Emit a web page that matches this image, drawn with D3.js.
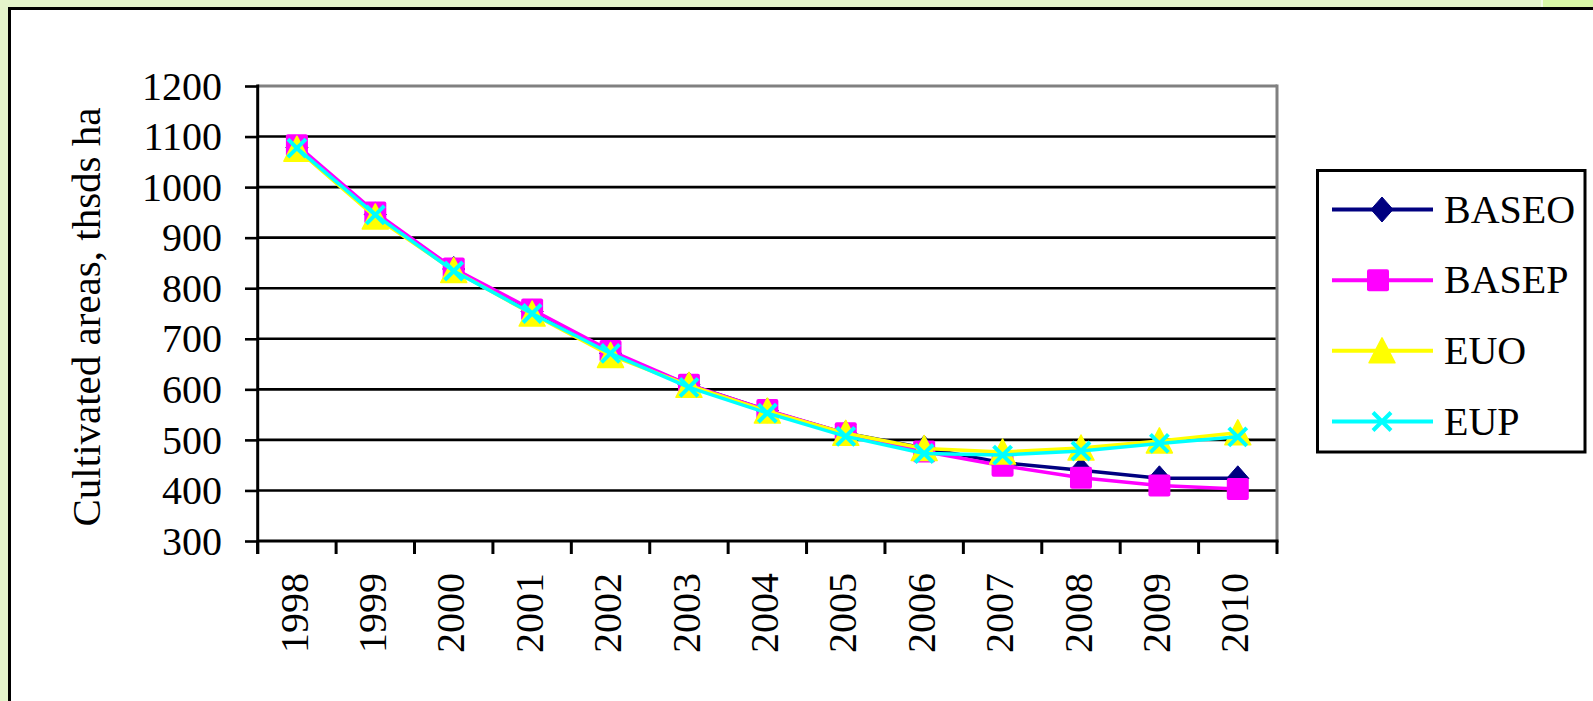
<!DOCTYPE html>
<html>
<head>
<meta charset="utf-8">
<script src="https://cdn.jsdelivr.net/npm/d3@7/dist/d3.min.js"></script>
<style>
  html, body { margin: 0; padding: 0; background: #e4f4cb; }
  svg { display: block; }
  text { font-family: "Liberation Serif", "Times New Roman", serif; fill: #000; }
</style>
</head>
<body>
<svg id="chart" width="1593" height="701" font-family="Liberation Serif"></svg>
<script>
const years = ["1998","1999","2000","2001","2002","2003","2004","2005","2006","2007","2008","2009","2010"];
const BASEO = [1078, 946, 838, 754, 671, 609, 558, 513, 484, 455, 440, 424, 424];
const BASEP = [1083, 950, 839, 758, 676, 609, 559, 513, 477, 449, 425, 410, 403];
const EUO   = [1075, 941, 835, 749, 667, 608, 557, 513, 483, 476, 484, 498, 514];
const EUP   = [1077, 945, 834, 750, 671, 604, 553, 507, 473, 470, 478, 493, 506];
const yTicks = [300, 400, 500, 600, 700, 800, 900, 1000, 1100, 1200];
const yTitle = "Cultivated areas, thsds ha";

const series = [
  { name: "BASEO", values: BASEO, color: "#000080", marker: "diamond" },
  { name: "BASEP", values: BASEP, color: "#ff00ff", marker: "square" },
  { name: "EUO",   values: EUO,   color: "#ffff00", marker: "triangle" },
  { name: "EUP",   values: EUP,   color: "#00ffff", marker: "x" }
];

(function () {
const FONT = "Liberation Serif";
const svg = d3.select("#chart");

// background strips and frame
svg.append("rect").attr("x", 1543).attr("y", 0).attr("width", 50).attr("height", 8).attr("fill", "#d8f6a6");
svg.append("rect").attr("x", 1541).attr("y", 0).attr("width", 2).attr("height", 8).attr("fill", "#f4fbe8");
svg.append("rect").attr("x", 10).attr("y", 9).attr("width", 1600).attr("height", 720).attr("fill", "#fff");
svg.append("line").attr("x1", 9.5).attr("x2", 9.5).attr("y1", 7).attr("y2", 701).attr("stroke", "#000").attr("stroke-width", 3);
svg.append("line").attr("x1", 8).attr("x2", 1593).attr("y1", 8.5).attr("y2", 8.5).attr("stroke", "#000").attr("stroke-width", 3);

const pLeft = 257.7, pRight = 1277, pTop = 86, pBottom = 541;

const x = d3.scaleBand().domain(years).range([pLeft, pRight]).padding(0);
const y = d3.scaleLinear().domain([300, 1200]).range([pBottom, pTop]);

// gridlines
svg.append("g").selectAll("line").data(yTicks.filter(v => v !== 300 && v !== 1200)).join("line")
  .attr("x1", pLeft).attr("x2", pRight)
  .attr("y1", d => y(d)).attr("y2", d => y(d))
  .attr("stroke", "#000").attr("stroke-width", 2.6);

// plot border top & right (gray)
svg.append("line").attr("x1", pLeft).attr("x2", pRight).attr("y1", y(1200)).attr("y2", y(1200))
  .attr("stroke", "#808080").attr("stroke-width", 3);
svg.append("line").attr("x1", pRight).attr("x2", pRight).attr("y1", y(1200) - 1.5).attr("y2", pBottom)
  .attr("stroke", "#808080").attr("stroke-width", 3);

// Y axis
const yAxis = svg.append("g").attr("transform", `translate(${pLeft},0)`)
  .call(d3.axisLeft(y).tickValues(yTicks).tickSize(12.7).tickPadding(23).tickFormat(d3.format("d")))
  .attr("font-family", FONT).attr("font-size", 40);
yAxis.select(".domain").remove();
yAxis.selectAll(".tick line").attr("stroke", "#000").attr("stroke-width", 2.6);
yAxis.selectAll(".tick text").attr("font-size", 40).attr("dy", "0.33em").attr("font-family", FONT);
svg.append("line").attr("x1", pLeft).attr("x2", pLeft).attr("y1", pTop - 1.5).attr("y2", pBottom + 13)
  .attr("stroke", "#000").attr("stroke-width", 3);

// X axis
const xAxis = svg.append("g").attr("transform", `translate(0,${pBottom})`)
  .call(d3.axisBottom(x).tickSize(0).tickPadding(0))
  .attr("font-family", FONT).attr("font-size", 40);
xAxis.select(".domain").remove();
xAxis.selectAll(".tick text")
  .attr("font-size", 40)
  .attr("font-family", FONT)
  .attr("text-anchor", "end")
  .attr("transform", "translate(-2.5,32) rotate(-90)")
  .attr("x", 0).attr("y", 0).attr("dy", "0.33em");
svg.append("line").attr("x1", pLeft).attr("x2", pRight + 1.5).attr("y1", pBottom).attr("y2", pBottom)
  .attr("stroke", "#000").attr("stroke-width", 3);
const boundaries = years.map(d => x(d)).concat([x.range()[1]]);
svg.append("g").selectAll("line").data(boundaries).join("line")
  .attr("x1", d => d).attr("x2", d => d)
  .attr("y1", pBottom).attr("y2", pBottom + 13)
  .attr("stroke", "#000").attr("stroke-width", 3);

// Y title
svg.append("text")
  .attr("transform", `translate(100,317) rotate(-90)`)
  .attr("text-anchor", "middle")
  .attr("font-family", FONT)
  .attr("font-size", 41)
  .text(yTitle);

// marker drawing
function drawMarker(g, type, color, cx, cy) {
  if (type === "diamond") {
    g.append("path").attr("d", `M${cx},${cy-12.5} L${cx+11},${cy} L${cx},${cy+12.5} L${cx-11},${cy} Z`)
      .attr("fill", color).attr("stroke", color).attr("stroke-width", 1).attr("stroke-linejoin", "round");
  } else if (type === "square") {
    g.append("rect").attr("x", cx - 11).attr("y", cy - 11).attr("width", 22).attr("height", 22)
      .attr("rx", 2).attr("fill", color);
  } else if (type === "triangle") {
    g.append("path").attr("d", `M${cx},${cy-13} L${cx+13},${cy+12} L${cx-13},${cy+12} Z`)
      .attr("fill", color).attr("stroke", color).attr("stroke-width", 1.5).attr("stroke-linejoin", "round");
  } else if (type === "x") {
    const s = 9;
    g.append("path").attr("d", `M${cx-s},${cy-s} L${cx+s},${cy+s} M${cx+s},${cy-s} L${cx-s},${cy+s}`)
      .attr("stroke", color).attr("stroke-width", 4).attr("fill", "none");
  }
}

const line = d3.line().x((d, i) => x(years[i]) + x.bandwidth() / 2).y(d => y(d));

series.forEach(s => {
  const g = svg.append("g");
  g.append("path").datum(s.values).attr("d", line)
    .attr("fill", "none").attr("stroke", s.color).attr("stroke-width", 3.5).attr("stroke-linejoin", "round");
  s.values.forEach((v, i) => drawMarker(g, s.marker, s.color, x(years[i]) + x.bandwidth() / 2, y(v)));
});

// Legend
const lg = svg.append("g");
lg.append("rect").attr("x", 1317.5).attr("y", 170.5).attr("width", 267.5).attr("height", 281.5)
  .attr("fill", "#fff").attr("stroke", "#000").attr("stroke-width", 3);
const legendY = d3.scalePoint().domain(series.map(s => s.name)).range([209.5, 421.5]);
series.forEach(s => {
  const cy = legendY(s.name);
  lg.append("line").attr("x1", 1332).attr("x2", 1433).attr("y1", cy).attr("y2", cy)
    .attr("stroke", s.color).attr("stroke-width", 4);
  drawMarker(lg, s.marker, s.color, s.marker === "square" ? 1378 : 1382, cy);
  lg.append("text").attr("x", 1444).attr("y", cy).attr("dy", "0.33em")
    .attr("font-family", FONT).attr("font-size", 40).text(s.name);
});
})();
</script>
</body>
</html>
